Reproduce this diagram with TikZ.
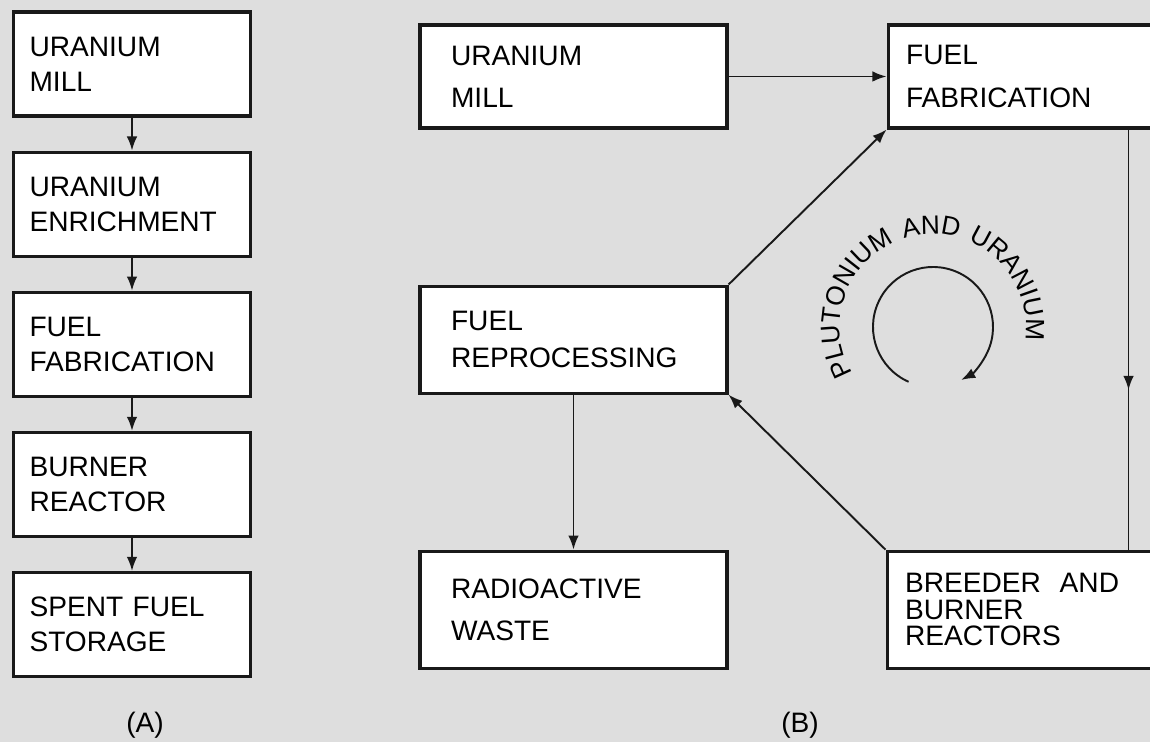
\documentclass[tikz,border=0pt]{standalone}
\usepackage{fontspec}
\setmainfont{Liberation Sans}
\usetikzlibrary{positioning, arrows.meta, calc, decorations.text, decorations.markings}

\begin{document}
\begin{tikzpicture}[
		x=0.02cm, y=0.02cm,
		node distance=0.66cm and 3.16cm,
		% Estilos de cajas
		caja/.style={draw=black!90, fill=white, line width=1.8pt, rectangle, align=left, inner ysep=0pt},
		cajaA/.style={caja, text width=4.1cm, inner xsep=0.32cm, minimum height=2.08cm, font=\fontsize{16}{20}\selectfont},
		cajaB/.style={caja, text width=4.9cm, inner xsep=0.62cm, font=\fontsize{16}{24}\selectfont},
		cajaC/.style={caja, text width=5.28cm, inner xsep=0.36cm, font=\fontsize{16}{24}\selectfont},
		% Estilos de flechas y etiquetas
		flecha/.style={-{Latex[length=8pt, width=6pt]}, line width=1.1pt, draw=black!90},
		flechamedia/.style={line width=1.1pt, draw=black!90, postaction={decorate},
			decoration={markings, mark=at position 0.62 with {\arrow{Latex[length=8pt, width=6pt]}}}},
		etiqueta/.style={font=\fontsize{16}{20}\selectfont, inner sep=2pt}
		]
		
		\clip (0,0) rectangle (1150,742);
		\fill[black!13] (0,0) rectangle (1150,742);
		
		% --- CICLO SIMPLE (A) ---
		\node[cajaA] (molinoA) at (132,678) {URANIUM\\MILL};
		\node[cajaA, below=of molinoA] (enriq) {URANIUM\\ENRICHMENT};
		\node[cajaA, below=of enriq] (fabA) {FUEL\\FABRICATION};
		\node[cajaA, below=of fabA] (quemA) {BURNER\\REACTOR};
		\node[cajaA, below=of quemA] (almac) {SPENT FUEL\\STORAGE};
		\node[etiqueta] (etiqA) at (145,17) {(A)};
		
		\draw[flecha] (molinoA) -- (enriq);
		\draw[flecha] (enriq) -- (fabA);
		\draw[flecha] (fabA) -- (quemA);
		\draw[flecha] (quemA) -- (almac);
		
		% --- CICLO CON REPROCESADO (B) ---
		\node[cajaB, minimum height=2.06cm] (molinoB) at (573.5,665.5) {URANIUM\\MILL};
		\node[cajaB, minimum height=2.14cm, below=3.1cm of molinoB, font=\fontsize{16}{21}\selectfont] (repro) {FUEL\\REPROCESSING};
		\node[cajaB, minimum height=2.34cm, below=3.1cm of repro] (residuo) {RADIOACTIVE\\WASTE};
		\node[cajaC, minimum height=2.06cm, right=3.16cm of molinoB] (fabB) {FUEL\\FABRICATION};
		\node[cajaC, minimum height=2.34cm, right=3.14cm of residuo, font=\fontsize{16}{15}\selectfont] (reactores) {BREEDER\ \ AND\\BURNER\\REACTORS};
		\node[etiqueta] (etiqB) at (800,17) {(B)};
		
		\coordinate (bajada) at ($(fabB.south west)+(242,0)$);
		
		\draw[flecha] (molinoB.east |- fabB.west) -- (fabB.west);
		\draw[flechamedia] (bajada) -- (bajada |- reactores.north);
		\draw[flecha] (reactores.north west) -- (repro.south east);
		\draw[flecha] (repro.north east) -- (fabB.south west);
		\draw[flecha] (repro.south) -- (repro.south |- residuo.north);
		
		% Giro del plutonio y uranio
		\coordinate (giro) at (933,415);
		\draw[flecha] (giro) ++(246:60) arc[start angle=246, end angle=-62, radius=60];
		\path[decorate, decoration={text along path, text align=fit to path stretching spaces,
			text={|\fontsize{15}{15}\selectfont|PLUTONIUM AND URANIUM}}]
			(giro) ++(210:93) arc[start angle=210, end angle=-8, radius=93];
		
	\end{tikzpicture}
\end{document}
